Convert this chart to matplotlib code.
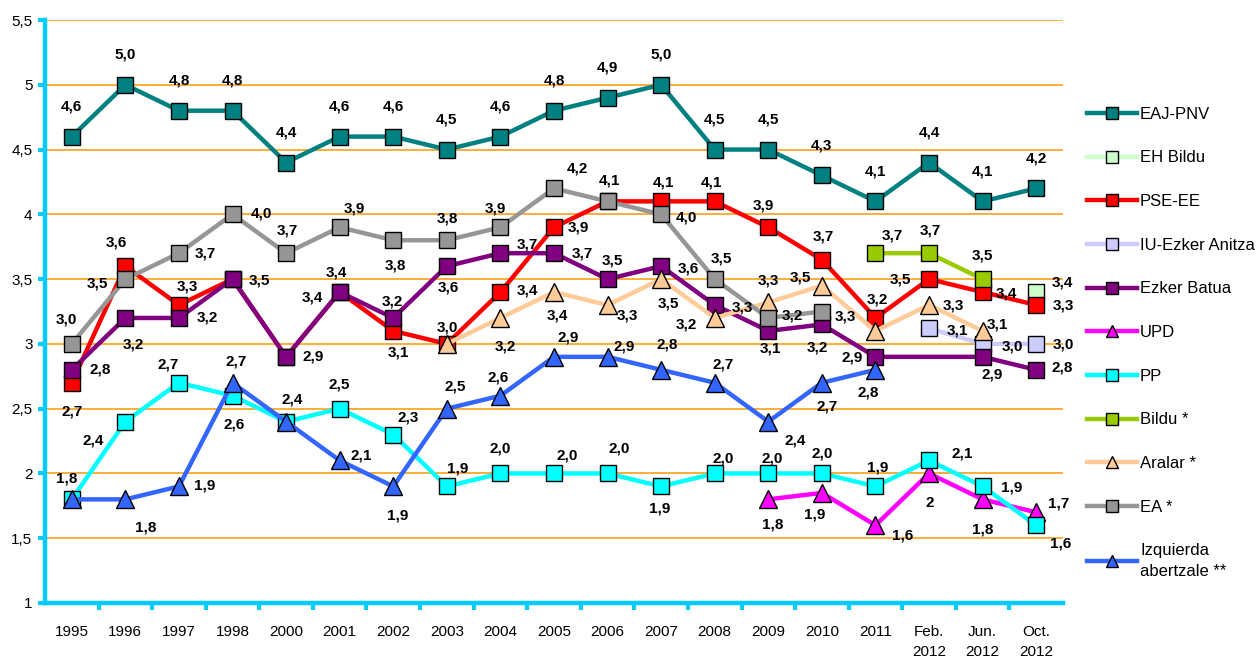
import math

import matplotlib

matplotlib.use("Agg")
import matplotlib.pyplot as plt
import numpy as np
from matplotlib.lines import Line2D
from matplotlib.ticker import FuncFormatter

plt.rcParams["font.family"] = ["Liberation Sans", "DejaVu Sans"]

nan = np.nan

CATEGORIES = [
    "1995", "1996", "1997", "1998", "2000", "2001", "2002", "2003", "2004",
    "2005", "2006", "2007", "2008", "2009", "2010", "2011",
    "Feb.\n2012", "Jun.\n2012", "Oct.\n2012",
]

EAJ_PNV = [4.6, 5.0, 4.8, 4.8, 4.4, 4.6, 4.6, 4.5, 4.6, 4.8, 4.9, 5.0, 4.5, 4.5, 4.3, 4.1, 4.4, 4.1, 4.2]
EH_BILDU = [nan] * 18 + [3.4]
PSE_EE = [2.7, 3.6, 3.3, 3.5, 2.9, 3.4, 3.1, 3.0, 3.4, 3.9, 4.1, 4.1, 4.1, 3.9, 3.65, 3.2, 3.5, 3.4, 3.3]
IU_EZKER_ANITZA = [nan] * 16 + [3.12, 3.0, 3.0]
EZKER_BATUA = [2.8, 3.2, 3.2, 3.5, 2.9, 3.4, 3.2, 3.6, 3.7, 3.7, 3.5, 3.6, 3.3, 3.1, 3.15, 2.9, nan, 2.9, 2.8]
UPD = [nan] * 13 + [1.8, 1.85, 1.6, 2.0, 1.8, 1.7]
PP = [1.8, 2.4, 2.7, 2.6, 2.4, 2.5, 2.3, 1.9, 2.0, 2.0, 2.0, 1.9, 2.0, 2.0, 2.0, 1.9, 2.1, 1.9, 1.6]
BILDU = [nan] * 15 + [3.7, 3.7, 3.5, nan]
ARALAR = [nan] * 7 + [3.0, 3.2, 3.4, 3.3, 3.5, 3.2, 3.32, 3.45, 3.1, 3.3, 3.1, nan]
EA = [3.0, 3.5, 3.7, 4.0, 3.7, 3.9, 3.8, 3.8, 3.9, 4.2, 4.1, 4.0, 3.5, 3.2, 3.25] + [nan] * 4
IZQUIERDA = [1.8, 1.8, 1.9, 2.7, 2.4, 2.1, 1.9, 2.5, 2.6, 2.9, 2.9, 2.8, 2.7, 2.4, 2.7, 2.8] + [nan] * 3

SERIES = [
    ("EAJ-PNV", EAJ_PNV, "#008080", "s"),
    ("EH Bildu", EH_BILDU, "#CCFFCC", "s"),
    ("PSE-EE", PSE_EE, "#FF0000", "s"),
    ("IU-Ezker Anitza", IU_EZKER_ANITZA, "#CCCCFF", "s"),
    ("Ezker Batua", EZKER_BATUA, "#800080", "s"),
    ("UPD", UPD, "#FF00FF", "^"),
    ("PP", PP, "#00FFFF", "s"),
    ("Bildu *", BILDU, "#99CC00", "s"),
    ("Aralar *", ARALAR, "#FFCC99", "^"),
    ("EA *", EA, "#969696", "s"),
    ("Izquierda\nabertzale **", IZQUIERDA, "#3366FF", "^"),
]

# label offsets in screen pixels (dx right, dy down) from the marker
LABEL_POS = {
    "EAJ-PNV": {i: (0, -30) for i in range(19)},
    "EH Bildu": {18: (26, -10)},
    "PSE-EE": {0: (0, 29), 1: (-9, -24), 2: (8, -19), 5: (-27, 5), 6: (5, 22), 7: (1, -16),
               8: (27, -2), 9: (24, 0), 11: (2, -19), 12: (-3, -19), 13: (-5, -22), 14: (1, -23),
               15: (2, -18), 16: (-29, 0), 17: (24, 1), 18: (27, 0)},
    "IU-Ezker Anitza": {16: (28, 2), 17: (30, 3), 18: (27, 1)},
    "Ezker Batua": {0: (28, 0), 1: (8, 27), 2: (28, 0), 3: (27, 1), 4: (27, 0), 5: (-3, -20),
                    6: (-1, -16), 7: (1, 21), 8: (27, -9), 9: (28, 0), 10: (5, -19), 11: (27, 2),
                    12: (28, 2), 13: (2, 18), 14: (-5, 23), 15: (-23, 1), 17: (10, 18), 18: (26, -2)},
    "UPD": {13: (4, 25), 14: (-7, 22), 15: (27, 10), 16: (1, 30), 17: (0, 30), 18: (22, -9)},
    "PP": {0: (-5, -21), 1: (-32, 19), 2: (-11, -18), 3: (2, 29), 4: (6, -22), 5: (0, -24),
           6: (15, -17), 7: (11, -18), 8: (0, -25), 9: (13, -18), 10: (12, -25), 11: (-1, 22),
           12: (8, -15), 13: (4, -15), 14: (0, -20), 15: (2, -19), 16: (33, -7), 17: (29, 1),
           18: (24, 18)},
    "Bildu *": {15: (17, -18), 16: (1, -23), 17: (0, -24)},
    "Aralar *": {8: (5, 29), 9: (3, 23), 10: (20, 10), 11: (7, 24), 12: (-28, 7), 13: (0, -22),
                 14: (-22, -8), 16: (24, 0), 17: (15, -6)},
    "EA *": {0: (-5, -24), 1: (-28, 4), 2: (26, 0), 3: (29, -1), 4: (1, -23), 5: (15, -19),
             6: (2, 25), 7: (1, -22), 8: (-5, -19), 9: (23, -20), 10: (2, -21), 11: (25, 3),
             12: (7, -21), 13: (24, -2), 14: (23, 5)},
    "Izquierda\nabertzale **": {1: (20, 28), 2: (26, -1), 3: (4, -21), 5: (22, -5), 6: (4, 29),
                               7: (8, -22), 8: (-2, -18), 9: (14, -19), 10: (17, -10), 11: (6, -25),
                               12: (8, -18), 13: (27, 19), 14: (5, 24), 15: (-7, 23)},
}
LABEL_TEXT = {("UPD", 16): "2"}

AXIS_COLOR = "#00CCFF"
GRID_COLOR = "#FFA726"


def fmt(v):
    return f"{math.floor(v * 10 + 0.5 + 1e-9) / 10:.1f}".replace(".", ",")


fig = plt.figure(figsize=(12.56, 6.58), dpi=100)
ax = fig.add_axes([45 / 1256, 55 / 658, (1063 - 45) / 1256, (603 - 20) / 658])

x = np.arange(len(CATEGORIES))
handles = []
for name, vals, color, marker in SERIES:
    v = np.array(vals, dtype=float)
    ok = ~np.isnan(v)
    ax.plot(x[ok], v[ok], color=color, lw=3.2, marker=marker, markersize=12 if marker == "s" else 13,
            markerfacecolor=color, markeredgecolor="black", markeredgewidth=1.0, zorder=3,
            solid_joinstyle="round")
    handles.append(Line2D([], [], color=color, lw=3.2, marker=marker, markersize=9,
                          markerfacecolor=color, markeredgecolor="black", markeredgewidth=1.0))
    for i, (dx, dy) in LABEL_POS.get(name, {}).items():
        txt = LABEL_TEXT.get((name, i), fmt(v[i]))
        ax.annotate(txt, (i, v[i]), xytext=(dx, -dy), textcoords="offset pixels",
                    ha="center", va="center", fontsize=11, fontweight="bold",
                    color="black", zorder=10, annotation_clip=False)

ax.set_xlim(-0.5, len(CATEGORIES) - 0.5)
ax.set_ylim(1, 5.5)
ax.set_xticks(x)
ax.set_xticklabels(CATEGORIES, fontsize=11, linespacing=1.55, va="top")
ax.set_xticks(np.arange(0.5, len(CATEGORIES) - 0.5, 1), minor=True)
ax.set_yticks(np.arange(1, 5.51, 0.5))
ax.yaxis.set_major_formatter(FuncFormatter(lambda v, _: f"{v:g}".replace(".", ",")))
ax.tick_params(axis="x", which="major", length=0, pad=16)
ax.tick_params(axis="x", which="minor", length=5, width=3, color=AXIS_COLOR, direction="out")
ax.tick_params(axis="y", length=5, width=3, color=AXIS_COLOR, direction="out", labelsize=11, pad=4)

ax.yaxis.grid(True, color=GRID_COLOR, lw=1.3)
ax.set_axisbelow(True)
for side in ("top", "right"):
    ax.spines[side].set_visible(False)
for side in ("left", "bottom"):
    ax.spines[side].set_color(AXIS_COLOR)
    ax.spines[side].set_linewidth(3.2)
    ax.spines[side].set_zorder(5)

leg = fig.legend(handles, [s[0] for s in SERIES], loc="upper left",
                 bbox_to_anchor=(1080 / 1256, 1 - 100 / 658), frameon=False, fontsize=12,
                 handlelength=3.0, handletextpad=0.2, labelspacing=1.72, borderaxespad=0)
leg.get_texts()[-1].set_linespacing(1.45)

fig.savefig("out.png", dpi=100)
